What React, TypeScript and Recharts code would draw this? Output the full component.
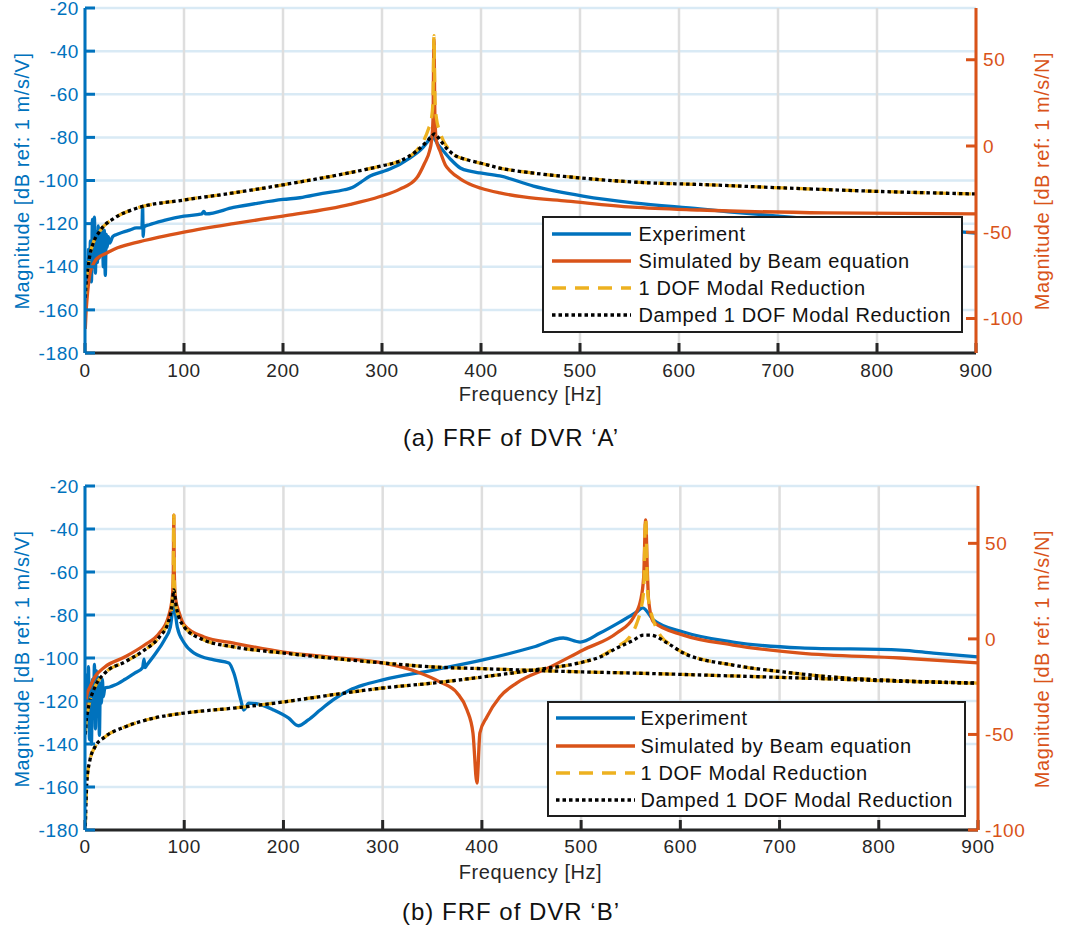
import React from "react"
import { LineChart, Line, XAxis, YAxis, CartesianGrid } from "recharts"

const BLUE = "#0072BD"
const ORANGE = "#D95319"
const YELLOW = "#EDB120"
const INK = "#262626"
const FONT = '"Liberation Sans", Arial, Helvetica, sans-serif'

const freqTicks = [0, 100, 200, 300, 400, 500, 600, 700, 800, 900]
const leftTicks = [-180, -160, -140, -120, -100, -80, -60, -40, -20]
const rightTicks = [-100, -50, 0, 50]
const legendNames = ["Experiment", "Simulated by Beam equation", "1 DOF Modal Reduction", "Damped 1 DOF Modal Reduction"]

// (a) DVR 'A' -- experiment in dB ref 1 m/s/V (left), models in dB ref 1 m/s/N (right)
const aExpHz = [0.5, 1.5, 2.5, 3.5, 4.5, 5.5, 6.5, 7.5, 8.5, 9.5, 10.5, 11.5, 12.5, 13.5, 14.5, 15.5, 16.5, 17.5, 18.5, 19.5, 20.5, 21.5, 22.5, 23.5,
  25, 28, 32, 38, 45, 52, 57.5, 58.2, 58.8, 59.5, 65, 80, 100, 118, 120, 122, 150, 175,
  200, 217, 240, 262, 270, 278, 288, 300, 308, 328, 341, 347, 350, 352, 356, 362, 370, 379, 390, 399,
  419, 453, 503, 554, 621, 650, 700, 750, 800, 850, 900]
const aExpDb = [-150, -138, -148, -132, -146, -128, -147, -118, -140, -117, -143, -124, -138, -121, -136, -124, -134, -122, -140, -123, -144, -125, -131, -126,
  -129, -126, -125, -124, -123, -122, -122, -112, -126, -121.5, -120.5, -118.5, -116.5, -115.5, -114.3, -115.5, -112.5, -110.5,
  -108.8, -108, -106, -104.3, -103.3, -101, -97.9, -96, -94.7, -89.6, -84.9, -81.5, -79.6, -80, -83, -86.3, -90.5, -94.2, -95.8, -96.5,
  -97.9, -102.6, -107.2, -110.4, -113.2, -114.5, -116.5, -118.5, -120.5, -122.5, -124.4]

const aSimHz = [0.3, 1, 2, 3.5, 5, 7.5, 10, 15, 20, 30, 50, 75, 100, 150, 200, 247, 268, 298, 318, 335,
  343, 348, 350, 351.5, 352.5, 353.5, 355, 358.6, 364, 369, 379, 386, 400, 419, 443, 487, 553, 621, 750, 900]
const aSimDb = [-106, -97, -89, -80, -74, -69.5, -66.7, -64, -62.6, -59.7, -56.2, -52.8, -49.9, -45, -40.6, -36.3, -33.8, -29.3, -25, -18.6,
  -10, -2.9, 3, 15, 62, 15, 3, -2.9, -11, -14.5, -19, -21.4, -24.5, -27.2, -29.5, -31.9, -35.4, -37.1, -38.8, -39.4]

const aDofHz = [0.3, 1, 2, 3, 5, 8, 15, 30, 50, 100, 150, 200, 250, 280, 300, 318, 335, 342, 347, 350,
  351.5, 352.5, 353.5, 355, 358, 362, 367, 372, 386, 400, 419, 450, 487, 520, 571, 621, 705, 800, 900]
const aDofDb = [-88, -80, -74, -70.7, -63, -56.8, -49.3, -41.7, -36.5, -31.3, -27.2, -22.5, -17.4, -14, -11.5, -8.7, -2.5, 3, 10, 16,
  26, 64, 26, 16, 9, 3, -1.5, -4.8, -8, -10, -12.8, -15.5, -17.8, -19.5, -21.4, -22.3, -24.3, -26.3, -27.8]

const aDampHz = [0.3, 1, 2, 3, 5, 8, 15, 30, 50, 100, 150, 200, 250, 280, 300, 318, 335, 345, 350, 353,
  356, 360, 365, 372, 386, 400, 419, 450, 487, 520, 571, 621, 705, 800, 900]
const aDampDb = [-88, -80, -74, -70.7, -63, -56.8, -49.3, -41.7, -36.5, -31.3, -27.2, -22.5, -17.4, -14, -11.5, -8.7, -2.9, 2.5, 5.5, 7,
  5.5, 2.5, -1.2, -4.8, -8, -10, -12.8, -15.5, -17.8, -19.5, -21.4, -22.3, -24.3, -26.3, -27.8]

// (b) DVR 'B'
const bExpHz = [0.5, 1.5, 2.5, 3.5, 4.5, 5.5, 6.5, 7.5, 8.5, 9.5, 10.5, 11.5, 12.5, 13.5, 14.5, 15.5, 16.5, 17.5, 18.5, 20,
  25, 30, 40, 50, 58, 59.5, 60.5, 62, 70, 80, 86, 89.5, 93, 100, 110, 130, 145, 150, 157, 160,
  165, 175, 190, 205, 215, 225, 237, 250, 267, 280, 300, 351, 401, 452, 482, 499, 519, 539, 556, 562,
  573, 603, 653, 721, 822, 855, 900]
const bExpDb = [-119, -108, -132, -104, -138, -112, -140, -110, -128, -103, -133, -106, -126, -109, -136, -112, -121, -110, -118, -114,
  -113.5, -112.6, -110, -107, -104.5, -100.5, -104.5, -103.5, -98.6, -91.6, -85.6, -75.5, -85.6, -93, -97.7, -100.9, -102.3, -107, -119.5, -124.2,
  -121, -121.5, -124.2, -127.9, -131.5, -128.8, -124.2, -119.5, -114.9, -112.6, -110.2, -105.6, -100.9, -94.9, -90.7, -92.6, -88.4, -83.3, -78.6, -76.7,
  -82.3, -87.9, -92.6, -95.3, -96.3, -97.7, -99.5]

const bSimHz = [0.3, 2, 5, 10, 20, 40, 60, 75, 84, 88, 89, 89.5, 90, 91, 95, 100, 120, 150, 200, 250,
  300, 335, 358, 375, 385, 391, 395, 398, 405, 418, 435, 469, 502, 536, 553, 560, 563, 565, 567, 568,
  573, 603, 653, 721, 822, 900]
const bSimDb = [-36, -29, -25.2, -19.9, -14.7, -9.5, -3.2, 3.1, 11.5, 21.9, 35, 64.8, 35, 21.9, 13.5, 7.3, 1, -2.2, -6.9, -9.7,
  -12.6, -17.3, -22.6, -28.3, -37.2, -49.2, -75.4, -49.2, -40.9, -30.4, -23.1, -14.7, -5.8, 3.1, 11.5, 20.3, 32, 62.2, 32, 20.3,
  8.8, 2, -3.2, -7.4, -10, -12.6]

const bDof1Hz = [0.3, 1, 3, 10, 20, 40, 60, 75, 84, 87, 88.7, 89.5, 90.3, 92, 95, 100, 120, 150, 200, 250,
  300, 351, 401, 452, 502, 553, 653, 754, 822, 900]
const bDof1Db = [-50, -44, -37.2, -25.2, -17.9, -12.1, -5.8, 1, 9.5, 15, 24, 64.8, 24, 16, 11, 6.5, -0.6, -4.2, -7.4, -10.2,
  -12.6, -14.7, -15.6, -16.5, -17.3, -17.9, -19.4, -21, -22.2, -23.2]

const bDamp1Hz = [0.3, 1, 3, 10, 20, 40, 60, 75, 84, 88, 89.5, 92, 100, 120, 150, 200, 250, 300, 351, 401,
  452, 502, 553, 653, 754, 822, 900]
const bDamp1Db = [-50, -44, -37.2, -25.2, -17.9, -12.1, -5.8, 1, 8.8, 18.8, 25.6, 16.7, 6.2, -0.6, -4.2, -7.4, -10.2, -12.6, -14.7, -15.6,
  -16.5, -17.3, -17.9, -19.4, -21, -22.2, -23.2]

const bDof2Hz = [0.3, 2, 5, 10, 20, 40, 70, 100, 150, 200, 250, 300, 351, 401, 452, 502, 519, 536, 549, 556,
  560, 563, 565, 567, 570, 574, 581, 590, 603, 653, 704, 754, 822, 900]
const bDof2Db = [-98, -73.8, -63.4, -56.6, -51.3, -46.1, -41.4, -38.8, -36.2, -33, -29.2, -25.7, -23.1, -19.9, -16.3, -12.1, -9.3, -4, 1, 8,
  15, 25, 63.3, 25, 15, 8, 1, -3, -7.2, -13.7, -17.3, -20, -21.9, -23.1]

const bDamp2Hz = [0.3, 2, 5, 10, 20, 40, 70, 100, 150, 200, 250, 300, 351, 401, 452, 502, 519, 536, 553, 563,
  570, 587, 603, 653, 704, 754, 822, 900]
const bDamp2Db = [-98, -73.8, -63.4, -56.6, -51.3, -46.1, -41.4, -38.8, -36.2, -33, -29.2, -25.7, -23.1, -19.9, -16.3, -12.1, -9.5, -4.8, -0.6, 2,
  2, -2.2, -7.4, -13.7, -17.3, -20, -21.9, -23.1]

type Kind = "exp" | "sim" | "dof" | "damp"
type Series = { hz: number[]; db: number[]; kind: Kind }

const look: Record<Kind, { stroke: string; dash?: string; axis: string }> = {
  exp: { stroke: BLUE, axis: "left" },
  sim: { stroke: ORANGE, axis: "right" },
  dof: { stroke: YELLOW, dash: "14 9", axis: "right" },
  damp: { stroke: "#000000", dash: "3.5 3", axis: "right" },
}
const legendKinds: Kind[] = ["exp", "sim", "dof", "damp"]

const pts = (hz: number[], db: number[]) => hz.map((f, i) => ({ f, v: db[i] }))

const tickFont = { fontSize: 19, fontFamily: FONT, letterSpacing: 0.6 }
const titleFont = { fontSize: 20, fontFamily: FONT, letterSpacing: 0.55 }

type PanelProps = {
  series: Series[]
  height: number
  top: number
  plotH: number
  rightWidth: number
  rightDomain: [number, number]
  xTickMargin: number
  xLabelY: number
  titleY: number
}

function Panel(p: PanelProps) {
  const bottom = p.height - p.top - p.plotH - 30
  const unitTitle = (x: number, text: string, color: string) => () => (
    <text x={x} y={p.titleY} transform={`rotate(-90 ${x} ${p.titleY})`} textAnchor="middle" dominantBaseline="central" fill={color} {...titleFont}>
      {text}
    </text>
  )
  return (
    <LineChart width={1065} height={p.height} margin={{ top: p.top, right: 0, bottom, left: 0 }}>
      <CartesianGrid yAxisId="left" vertical={false} stroke="#d9eaf5" strokeWidth={2.5} />
      <CartesianGrid yAxisId="left" horizontal={false} stroke="#dedede" strokeWidth={2.5} />
      <XAxis
        type="number"
        dataKey="f"
        domain={[0, 900]}
        ticks={freqTicks}
        interval={0}
        allowDataOverflow
        height={30}
        tickSize={-10}
        tickMargin={p.xTickMargin}
        axisLine={{ stroke: INK, strokeWidth: 3 }}
        tickLine={{ stroke: INK, strokeWidth: 3 }}
        tick={{ fill: INK, ...tickFont }}
        label={() => (
          <text x={530.5} y={p.xLabelY} textAnchor="middle" fill={INK} {...titleFont}>
            Frequency [Hz]
          </text>
        )}
      />
      <YAxis
        yAxisId="left"
        domain={[-180, -20]}
        ticks={leftTicks}
        interval={0}
        allowDataOverflow
        width={85}
        tickSize={-10}
        tickMargin={16}
        axisLine={{ stroke: BLUE, strokeWidth: 3 }}
        tickLine={{ stroke: BLUE, strokeWidth: 3 }}
        tick={{ fill: BLUE, ...tickFont }}
        label={unitTitle(22, "Magnitude [dB ref: 1 m/s/V]", BLUE)}
      />
      <YAxis
        yAxisId="right"
        orientation="right"
        domain={p.rightDomain}
        ticks={rightTicks}
        interval={0}
        allowDataOverflow
        width={p.rightWidth}
        tickSize={-10}
        tickMargin={17}
        axisLine={{ stroke: ORANGE, strokeWidth: 3 }}
        tickLine={{ stroke: ORANGE, strokeWidth: 3 }}
        tick={{ fill: ORANGE, ...tickFont }}
        label={unitTitle(1042, "Magnitude [dB ref: 1 m/s/N]", ORANGE)}
      />
      {p.series.map((s, i) => (
        <Line
          key={i}
          data={pts(s.hz, s.db)}
          dataKey="v"
          yAxisId={look[s.kind].axis}
          type="monotoneX"
          stroke={look[s.kind].stroke}
          strokeWidth={3.3}
          strokeDasharray={look[s.kind].dash}
          strokeLinejoin="round"
          dot={false}
          activeDot={false}
          isAnimationActive={false}
        />
      ))}
    </LineChart>
  )
}

function LegendBox(p: { left: number; top: number; width: number; height: number; rows: number[]; sampleX: number; textX: number }) {
  const b = 2.5
  return (
    <div
      style={{
        position: "absolute",
        left: p.left,
        top: p.top,
        width: p.width,
        height: p.height,
        boxSizing: "border-box",
        border: `${b}px solid #1e1e1e`,
        background: "#fff",
      }}
    >
      {legendKinds.map((k, i) => (
        <div key={k} style={{ position: "absolute", left: 0, top: p.rows[i] - p.top - b - 14, height: 28, width: "100%" }}>
          <svg width={79} height={28} style={{ position: "absolute", left: p.sampleX - p.left - b, top: 0 }}>
            <line x1={0} y1={14} x2={79} y2={14} stroke={look[k].stroke} strokeWidth={3.3} strokeDasharray={look[k].dash} />
          </svg>
          <span
            style={{
              position: "absolute",
              left: p.textX - p.left - b,
              top: 0,
              lineHeight: "28px",
              fontSize: 20,
              letterSpacing: 0.6,
              color: "#111",
              whiteSpace: "nowrap",
            }}
          >
            {legendNames[i]}
          </span>
        </div>
      ))}
    </div>
  )
}

function Caption({ top, text }: { top: number; text: string }) {
  return (
    <div style={{ position: "absolute", left: 311, top, width: 400, textAlign: "center", fontSize: 24, letterSpacing: 1, lineHeight: "30px", color: "#111" }}>
      {text}
    </div>
  )
}

const seriesA: Series[] = [
  { hz: aExpHz, db: aExpDb, kind: "exp" },
  { hz: aSimHz, db: aSimDb, kind: "sim" },
  { hz: aDofHz, db: aDofDb, kind: "dof" },
  { hz: aDampHz, db: aDampDb, kind: "damp" },
]

const seriesB: Series[] = [
  { hz: bExpHz, db: bExpDb, kind: "exp" },
  { hz: bSimHz, db: bSimDb, kind: "sim" },
  { hz: bDof1Hz, db: bDof1Db, kind: "dof" },
  { hz: bDof2Hz, db: bDof2Db, kind: "dof" },
  { hz: bDamp1Hz, db: bDamp1Db, kind: "damp" },
  { hz: bDamp2Hz, db: bDamp2Db, kind: "damp" },
]

export default function App() {
  return (
    <div style={{ position: "absolute", left: 0, top: 0, width: 1065, height: 934, background: "#fff", fontFamily: FONT, overflow: "hidden" }}>
      <div style={{ position: "absolute", left: 0, top: 0 }}>
        <Panel series={seriesA} height={420} top={8} plotH={345} rightWidth={89} rightDomain={[-120, 80]} xTickMargin={21} xLabelY={401} titleY={181} />
      </div>
      <LegendBox left={542} top={216} width={421} height={117} rows={[234, 261, 288, 315]} sampleX={552} textX={639} />
      <Caption top={423} text="(a) FRF of DVR ‘A’" />

      <div style={{ position: "absolute", left: 0, top: 470 }}>
        <Panel series={seriesB} height={430} top={16} plotH={344} rightWidth={87} rightDomain={[-100, 80]} xTickMargin={20} xLabelY={409} titleY={189} />
      </div>
      <LegendBox left={547} top={701} width={419} height={116} rows={[718, 746, 773, 800]} sampleX={556} textX={641} />
      <Caption top={897} text="(b) FRF of DVR ‘B’" />
    </div>
  )
}
